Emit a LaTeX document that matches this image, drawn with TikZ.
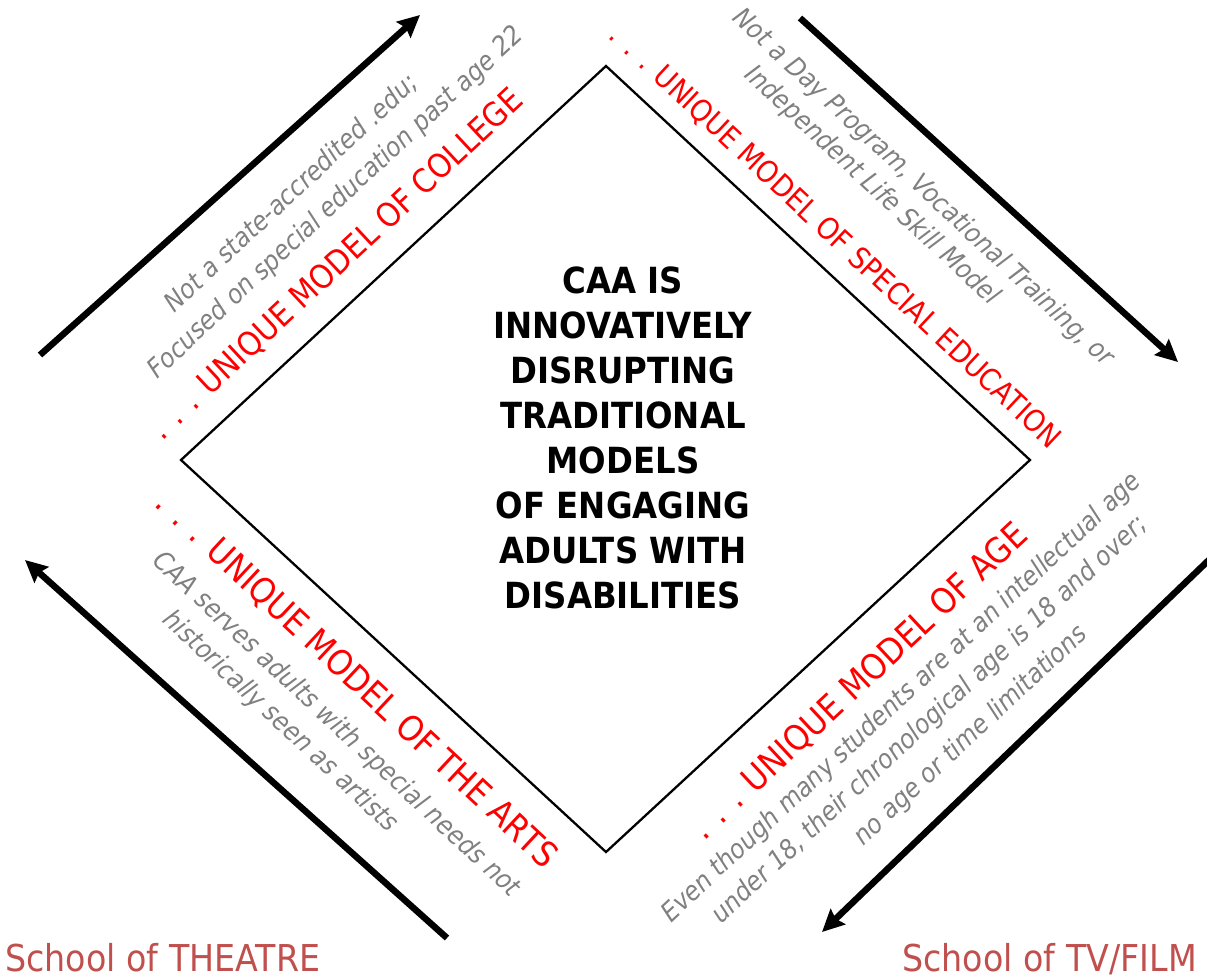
\documentclass[tikz,border=0pt]{standalone}
\usepackage{fontspec}
\setmainfont{DejaVu Sans}
\usetikzlibrary{arrows.meta}
\usetikzlibrary{positioning}

\definecolor{schoolred}{RGB}{192,80,77}
\definecolor{notegray}{RGB}{128,128,128}

\tikzset{
	bigarrow/.style={line width=6.5pt, -{Stealth[length=22pt,width=21pt,inset=3pt]}},
	rim/.style={line width=2.3pt, line join=miter},
	claim/.style={font=\bfseries\fontsize{36}{45}\selectfont, align=center, xscale=.9},
	model/.style={text=red, xscale=.9, font=\fontsize{#1}{#1}\selectfont},
	note/.style={text=notegray, xscale=.9, font=\itshape\fontsize{26.5}{26.5}\selectfont},
	school/.style={text=schoolred, xscale=.9, inner sep=0pt, font=\fontsize{37}{37}\selectfont}
}

\begin{document}
\begin{tikzpicture}[x=1pt,y=-1pt]
	\useasboundingbox (0,0) rectangle (1207,978);

	% the diamond
	\coordinate (top) at (606,66);
	\coordinate (right) at (1030,460);
	\coordinate (bottom) at (606,852);
	\coordinate (left) at (181,460);
	\draw[rim] (top) -- (right) -- (bottom) -- (left) -- cycle;

	\node[claim] (claim) at (623,438) {CAA IS\\INNOVATIVELY\\DISRUPTING\\TRADITIONAL\\MODELS\\OF ENGAGING\\ADULTS WITH\\DISABILITIES};

	% red labels along the sides
	\node[rotate=43, model=33] (college) at (337,265) {. . . UNIQUE MODEL OF COLLEGE};
	\node[rotate=-43, model=30] (special) at (835,237) {. . . UNIQUE MODEL OF SPECIAL EDUCATION};
	\node[rotate=43, model=35] (age) at (860,682) {. . . UNIQUE MODEL OF AGE};
	\node[rotate=-43, model=35] (arts) at (356,680) {. . . UNIQUE MODEL OF THE ARTS};

	% grey notes
	\node[rotate=43, note] (collegeA) at (291,193) {Not a state-accredited .edu;};
	\node[rotate=43, note] (collegeB) at (336,203) {Focused on special education past age 22};
	\node[rotate=-43, note] (specialA) at (923,188) {Not a Day Program, Vocational Training, or};
	\node[rotate=-43, note] (specialB) at (872,186) {Independent Life Skill Model};
	\node[rotate=43, note] (ageA) at (902,698) {Even though many students are at an intellectual age};
	\node[rotate=43, note] (ageB) at (930,720) {under 18, their chronological age is 18 and over;};
	\node[rotate=43, note] (ageC) at (971,736) {no age or time limitations};
	\node[rotate=-43, note] (artsA) at (336,725) {CAA serves adults with special needs not};
	\node[rotate=-43, note] (artsB) at (280,722) {historically seen as artists};

	% the four arrows
	\coordinate (tlA) at (40,355);
	\coordinate (tlB) at (420,15);
	\coordinate (trA) at (800,18);
	\coordinate (trB) at (1178,362);
	\coordinate (brA) at (1212,557);
	\coordinate (brB) at (822,932);
	\coordinate (blA) at (447,938);
	\coordinate (blB) at (25,560);
	\draw[bigarrow] (tlA) -- (tlB);
	\draw[bigarrow] (trA) -- (trB);
	\draw[bigarrow] (brA) -- (brB);
	\draw[bigarrow] (blA) -- (blB);

	\node[school, anchor=base west] (theatre) at (5,971) {School of THEATRE};
	\node[school, anchor=base east] (tvfilm) at (1197,971) {School of TV/FILM};
\end{tikzpicture}
\end{document}
